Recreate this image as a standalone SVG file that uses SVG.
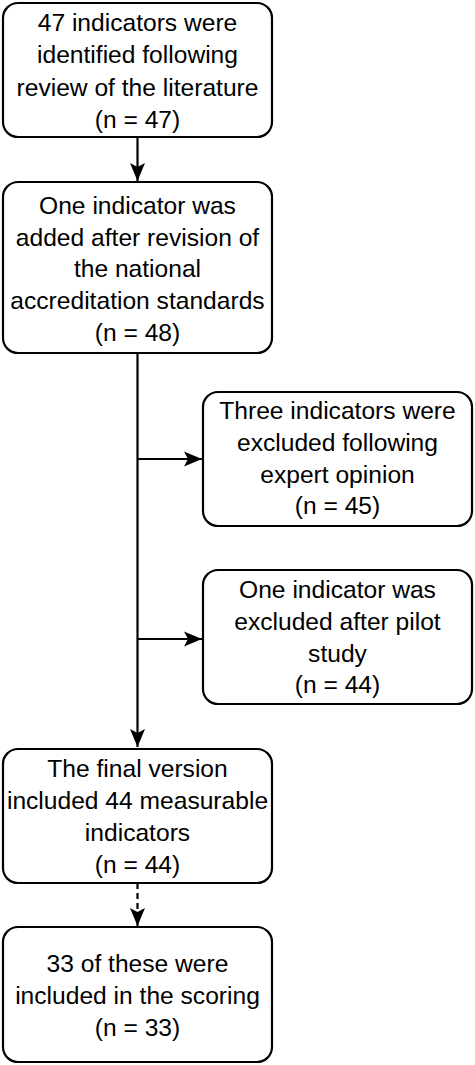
<svg xmlns="http://www.w3.org/2000/svg" width="475" height="1065" viewBox="0 0 475 1065">
<defs>
<style>
.box{fill:#fff;stroke:#000;stroke-width:2.2}
.t{font-family:"Liberation Sans",Arial,sans-serif;font-size:24.6px;fill:#000;text-anchor:middle}
.ln{fill:none;stroke:#000;stroke-width:2.2}
.dash{stroke-dasharray:6,4}
</style>
<marker id="ah" viewBox="0 0 20 18" refX="19" refY="9" markerWidth="20" markerHeight="18" markerUnits="userSpaceOnUse" orient="auto">
<path d="M1,1.5 L19,9 L1,16.5 L5,9 Z" fill="#000"/>
</marker>
</defs>
<rect width="475" height="1065" fill="#fff"/>
<g id="connectors">
<line class="ln" x1="137.5" y1="137" x2="137.5" y2="181" marker-end="url(#ah)"/>
<line class="ln" x1="137.5" y1="353" x2="137.5" y2="747" marker-end="url(#ah)"/>
<line class="ln" x1="137.5" y1="459" x2="202" y2="459" marker-end="url(#ah)"/>
<line class="ln" x1="137.5" y1="639" x2="202" y2="639" marker-end="url(#ah)"/>
<line class="ln dash" x1="137.5" y1="883" x2="137.5" y2="926" marker-end="url(#ah)"/>
</g>
<g id="n1">
<rect class="box" x="3" y="3" width="269" height="134" rx="15"/>
<text class="t" x="137.5" y="31">47 indicators were</text>
<text class="t" x="137.5" y="63">identified following</text>
<text class="t" x="137.5" y="96">review of the literature</text>
<text class="t" x="137.5" y="128">(n = 47)</text>
</g>
<g id="n2">
<rect class="box" x="3" y="182" width="269" height="171" rx="15"/>
<text class="t" x="137.5" y="214">One indicator was</text>
<text class="t" x="137.5" y="246">added after revision of</text>
<text class="t" x="137.5" y="277">the national</text>
<text class="t" x="137.5" y="309">accreditation standards</text>
<text class="t" x="137.5" y="341">(n = 48)</text>
</g>
<g id="n3">
<rect class="box" x="203" y="392" width="269" height="134" rx="15"/>
<text class="t" x="337.5" y="419">Three indicators were</text>
<text class="t" x="337.5" y="451">excluded following</text>
<text class="t" x="337.5" y="483">expert opinion</text>
<text class="t" x="337.5" y="514">(n = 45)</text>
</g>
<g id="n4">
<rect class="box" x="203" y="570" width="269" height="134" rx="15"/>
<text class="t" x="337.5" y="598">One indicator was</text>
<text class="t" x="337.5" y="630">excluded after pilot</text>
<text class="t" x="337.5" y="662">study</text>
<text class="t" x="337.5" y="693">(n = 44)</text>
</g>
<g id="n5">
<rect class="box" x="3" y="749" width="269" height="134" rx="15"/>
<text class="t" x="137.5" y="777">The final version</text>
<text class="t" x="137.5" y="809">included 44 measurable</text>
<text class="t" x="137.5" y="841">indicators</text>
<text class="t" x="137.5" y="873">(n = 44)</text>
</g>
<g id="n6">
<rect class="box" x="3" y="927" width="269" height="135" rx="15"/>
<text class="t" x="137.5" y="972">33 of these were</text>
<text class="t" x="137.5" y="1004">included in the scoring</text>
<text class="t" x="137.5" y="1036">(n = 33)</text>
</g>
</svg>
